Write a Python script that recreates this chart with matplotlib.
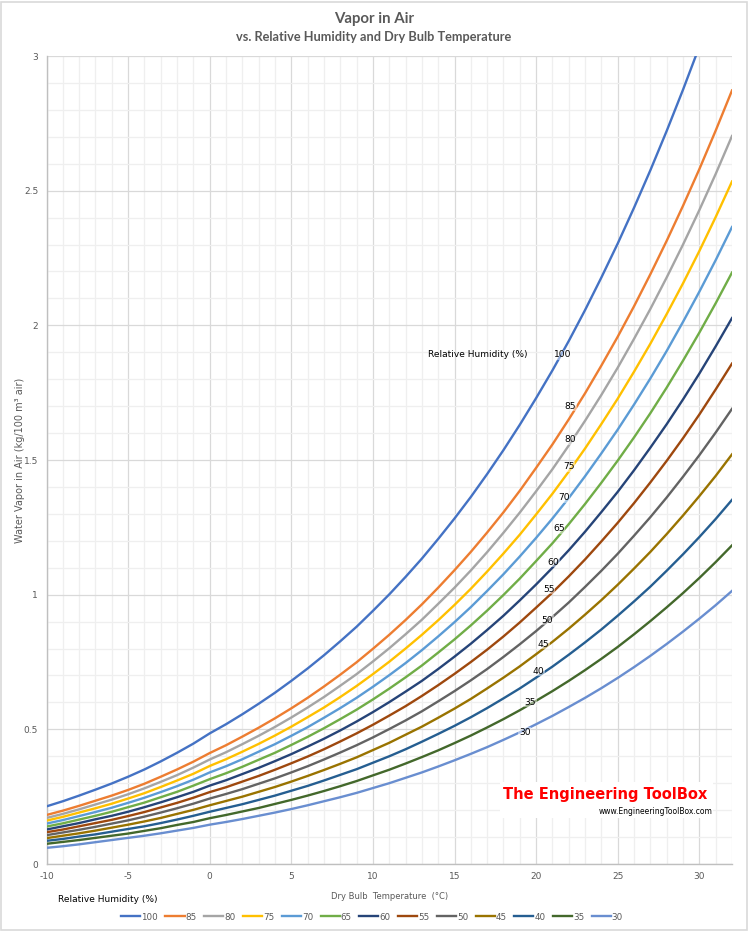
import matplotlib
matplotlib.use("Agg")
import matplotlib.pyplot as plt
from matplotlib.ticker import MultipleLocator, FuncFormatter
from matplotlib.patches import Rectangle

plt.rcParams["axes.unicode_minus"] = False

# dry bulb temperature (C)
temp = list(range(-10, 33))

# water vapor in air (kg/100 m3 air), one list per relative humidity
rh_100 = [0.214, 0.233, 0.254, 0.276, 0.299, 0.324, 0.351, 0.381, 0.413, 0.447, 0.485,
          0.519, 0.556, 0.595, 0.636, 0.680, 0.726, 0.775, 0.827, 0.881, 0.940,
          1.001, 1.066, 1.134, 1.207, 1.283, 1.363, 1.448, 1.537, 1.631, 1.730,
          1.833, 1.942, 2.057, 2.178, 2.304, 2.437, 2.576, 2.722, 2.875, 3.035,
          3.203, 3.379]
rh_85 = [0.182, 0.198, 0.216, 0.235, 0.254, 0.275, 0.298, 0.324, 0.351, 0.380, 0.412,
         0.441, 0.473, 0.506, 0.541, 0.578, 0.617, 0.659, 0.703, 0.749, 0.799,
         0.851, 0.906, 0.964, 1.026, 1.091, 1.159, 1.231, 1.306, 1.386, 1.471,
         1.558, 1.651, 1.748, 1.851, 1.958, 2.071, 2.190, 2.314, 2.444, 2.580,
         2.723, 2.872]
rh_80 = [0.171, 0.186, 0.203, 0.221, 0.239, 0.259, 0.281, 0.305, 0.330, 0.358, 0.388,
         0.415, 0.445, 0.476, 0.509, 0.544, 0.581, 0.620, 0.662, 0.705, 0.752,
         0.801, 0.853, 0.907, 0.966, 1.026, 1.090, 1.158, 1.230, 1.305, 1.384,
         1.466, 1.554, 1.646, 1.742, 1.843, 1.950, 2.061, 2.178, 2.300, 2.428,
         2.562, 2.703]
rh_75 = [0.161, 0.175, 0.191, 0.207, 0.224, 0.243, 0.263, 0.286, 0.310, 0.335, 0.364,
         0.389, 0.417, 0.446, 0.477, 0.510, 0.545, 0.581, 0.620, 0.661, 0.705,
         0.751, 0.800, 0.851, 0.905, 0.962, 1.022, 1.086, 1.153, 1.223, 1.298,
         1.375, 1.457, 1.543, 1.634, 1.728, 1.828, 1.932, 2.042, 2.156, 2.276,
         2.402, 2.534]
rh_70 = [0.150, 0.163, 0.178, 0.193, 0.209, 0.227, 0.246, 0.267, 0.289, 0.313, 0.340,
         0.363, 0.389, 0.417, 0.445, 0.476, 0.508, 0.543, 0.579, 0.617, 0.658,
         0.701, 0.746, 0.794, 0.845, 0.898, 0.954, 1.014, 1.076, 1.142, 1.211,
         1.283, 1.359, 1.440, 1.525, 1.613, 1.706, 1.803, 1.905, 2.013, 2.125,
         2.242, 2.365]
rh_65 = [0.139, 0.151, 0.165, 0.179, 0.194, 0.211, 0.228, 0.248, 0.268, 0.291, 0.315,
         0.337, 0.361, 0.387, 0.413, 0.442, 0.472, 0.504, 0.538, 0.573, 0.611,
         0.651, 0.693, 0.737, 0.785, 0.834, 0.886, 0.941, 0.999, 1.060, 1.125,
         1.191, 1.262, 1.337, 1.416, 1.498, 1.584, 1.674, 1.769, 1.869, 1.973,
         2.082, 2.196]
rh_60 = [0.128, 0.140, 0.152, 0.166, 0.179, 0.194, 0.211, 0.229, 0.248, 0.268, 0.291,
         0.311, 0.334, 0.357, 0.382, 0.408, 0.436, 0.465, 0.496, 0.529, 0.564,
         0.601, 0.640, 0.680, 0.724, 0.770, 0.818, 0.869, 0.922, 0.979, 1.038,
         1.100, 1.165, 1.234, 1.307, 1.382, 1.462, 1.546, 1.633, 1.725, 1.821,
         1.922, 2.027]
rh_55 = [0.118, 0.128, 0.140, 0.152, 0.164, 0.178, 0.193, 0.210, 0.227, 0.246, 0.267,
         0.285, 0.306, 0.327, 0.350, 0.374, 0.399, 0.426, 0.455, 0.485, 0.517,
         0.551, 0.586, 0.624, 0.664, 0.706, 0.750, 0.796, 0.845, 0.897, 0.952,
         1.008, 1.068, 1.131, 1.198, 1.267, 1.340, 1.417, 1.497, 1.581, 1.669,
         1.762, 1.858]
rh_50 = [0.107, 0.117, 0.127, 0.138, 0.150, 0.162, 0.176, 0.191, 0.207, 0.224, 0.243,
         0.260, 0.278, 0.298, 0.318, 0.340, 0.363, 0.388, 0.414, 0.441, 0.470,
         0.501, 0.533, 0.567, 0.604, 0.642, 0.682, 0.724, 0.769, 0.816, 0.865,
         0.917, 0.971, 1.029, 1.089, 1.152, 1.219, 1.288, 1.361, 1.438, 1.518,
         1.602, 1.690]
rh_45 = [0.096, 0.105, 0.114, 0.124, 0.135, 0.146, 0.158, 0.171, 0.186, 0.201, 0.218,
         0.234, 0.250, 0.268, 0.286, 0.306, 0.327, 0.349, 0.372, 0.396, 0.423,
         0.450, 0.480, 0.510, 0.543, 0.577, 0.613, 0.652, 0.692, 0.734, 0.779,
         0.825, 0.874, 0.926, 0.980, 1.037, 1.097, 1.159, 1.225, 1.294, 1.366,
         1.441, 1.521]
rh_40 = [0.086, 0.093, 0.102, 0.110, 0.120, 0.130, 0.140, 0.152, 0.165, 0.179, 0.194,
         0.208, 0.222, 0.238, 0.254, 0.272, 0.290, 0.310, 0.331, 0.352, 0.376,
         0.400, 0.426, 0.454, 0.483, 0.513, 0.545, 0.579, 0.615, 0.652, 0.692,
         0.733, 0.777, 0.823, 0.871, 0.922, 0.975, 1.030, 1.089, 1.150, 1.214,
         1.281, 1.352]
rh_35 = [0.075, 0.082, 0.089, 0.097, 0.105, 0.113, 0.123, 0.133, 0.145, 0.156, 0.170,
         0.182, 0.195, 0.208, 0.223, 0.238, 0.254, 0.271, 0.289, 0.308, 0.329,
         0.350, 0.373, 0.397, 0.422, 0.449, 0.477, 0.507, 0.538, 0.571, 0.606,
         0.642, 0.680, 0.720, 0.762, 0.806, 0.853, 0.902, 0.953, 1.006, 1.062,
         1.121, 1.183]
rh_30 = [0.060, 0.066, 0.073, 0.081, 0.089, 0.097, 0.105, 0.114, 0.124, 0.134, 0.146,
         0.156, 0.167, 0.179, 0.191, 0.204, 0.218, 0.233, 0.248, 0.264, 0.282,
         0.300, 0.320, 0.340, 0.362, 0.385, 0.409, 0.434, 0.461, 0.489, 0.519,
         0.550, 0.583, 0.617, 0.653, 0.691, 0.731, 0.773, 0.817, 0.863, 0.911,
         0.961, 1.014]

labels = ["100", "85", "80", "75", "70", "65", "60", "55", "50", "45", "40", "35", "30"]
series = [rh_100, rh_85, rh_80, rh_75, rh_70, rh_65, rh_60, rh_55, rh_50,
          rh_45, rh_40, rh_35, rh_30]
colors = ["#4472C4", "#ED7D31", "#A5A5A5", "#FFC000", "#5B9BD5", "#70AD47",
          "#264478", "#9E480E", "#636363", "#997300", "#255E91", "#43682B", "#698ED0"]

# where the RH numbers sit on the chart
label_x = [21.6, 22.1, 22.1, 22.0, 21.7, 21.4, 21.05, 20.8, 20.7, 20.45, 20.15, 19.65, 19.3]
label_y = [1.89, 1.70, 1.575, 1.475, 1.36, 1.245, 1.12, 1.02, 0.905, 0.815, 0.715, 0.60, 0.49]

grey = "#595959"
W, H = 748, 932
fig = plt.figure(figsize=(W / 100, H / 100), dpi=100)
ax = fig.add_axes([46.5 / W, (H - 864) / H, (732 - 46.5) / W, (864 - 56) / H])

lines = []
for vals, lab, col in zip(series, labels, colors):
    ln, = ax.plot(temp, vals, color=col, lw=1.7, label=lab, zorder=3)
    lines.append(ln)

ax.set_xlim(-10, 32)
ax.set_ylim(0, 3)
ax.xaxis.set_major_locator(MultipleLocator(5))
ax.xaxis.set_minor_locator(MultipleLocator(1))
ax.yaxis.set_major_locator(MultipleLocator(0.5))
ax.yaxis.set_minor_locator(MultipleLocator(0.1))
ax.yaxis.set_major_formatter(FuncFormatter(lambda v, p: "%g" % v))
ax.grid(which="major", color="#D9D9D9", lw=0.9)
ax.grid(which="minor", color="#EFEFEF", lw=0.9)
ax.set_axisbelow(True)
for s in ["top", "right"]:
    ax.spines[s].set_visible(False)
for s in ["left", "bottom"]:
    ax.spines[s].set_color("#BFBFBF")
    ax.spines[s].set_linewidth(1.0)
ax.tick_params(which="both", length=0, colors=grey, labelsize=6.5)
ax.tick_params(axis="y", pad=6)
ax.tick_params(axis="x", pad=6)

ax.set_xlabel("Dry Bulb  Temperature  (°C)", fontsize=6, color=grey, labelpad=8)
fig.text(20 / W, (H - 460) / H, "Water Vapor in Air (kg/100 m³ air)", fontsize=7,
         color=grey, rotation=90, ha="center", va="center")

for lab, x, y in zip(labels, label_x, label_y):
    ax.text(x, y, lab, fontsize=6.6, color="black", ha="center", va="center", zorder=4,
            bbox=dict(facecolor="white", alpha=0.45, edgecolor="none", pad=0.3))
ax.text(16.4, 1.89, "Relative Humidity (%)", fontsize=6.5, color="black",
        ha="center", va="center", zorder=4)

# watermark
ax.add_patch(Rectangle((500 / W, (H - 818) / H), 213 / W, 36 / H, transform=fig.transFigure,
                       facecolor="white", edgecolor="none", zorder=2))
fig.text(503 / W, (H - 794) / H, "The Engineering ToolBox", color="#FF0000",
         fontsize=10.5, fontweight="bold", family="DejaVu Sans",
         ha="left", va="center")
fig.text(713 / W, (H - 811) / H, "www.EngineeringToolBox.com", color="black",
         fontsize=5.5, ha="right", va="center")

fig.text(0.5, (H - 19) / H, "Vapor in Air", fontsize=10.8, fontweight="bold",
         color=grey, family="Lato", ha="center", va="center")
fig.text(0.5, (H - 37) / H, "vs. Relative Humidity and Dry Bulb Temperature", fontsize=9.2,
         fontweight="bold", color=grey, family="Lato", ha="center", va="center")

fig.text(58 / W, (H - 899) / H, "Relative Humidity (%)", fontsize=6.5, color="black",
         ha="left", va="center")
fig.legend(handles=lines, loc="center", bbox_to_anchor=(372 / W, (H - 917) / H), ncol=13,
           frameon=False, fontsize=6.3, labelcolor=grey, handlelength=2.2,
           handletextpad=0.1, columnspacing=0.85, borderaxespad=0)

fig.patches.append(Rectangle((0.002, 0.002), 0.996, 0.996, transform=fig.transFigure,
                             facecolor="none", edgecolor="#D9D9D9", lw=1.2))

fig.savefig("out.png", dpi=100, facecolor="white")
